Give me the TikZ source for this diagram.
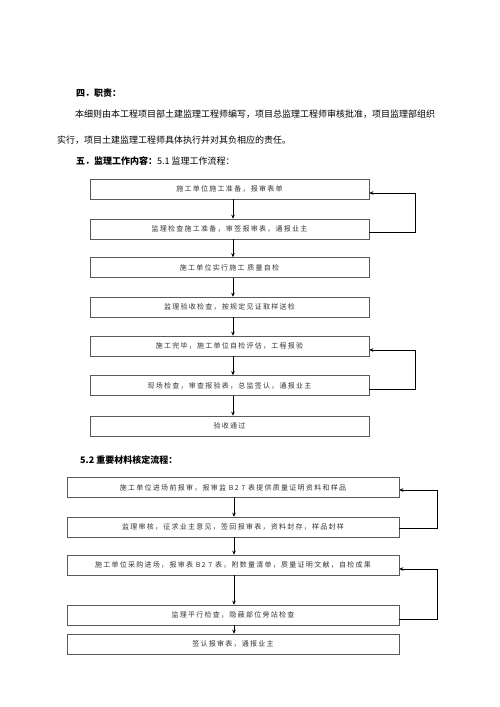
\documentclass[tikz,border=0pt]{standalone}
\usepackage{fontspec}
\setmainfont{Noto Sans CJK SC}
\newfontfamily\boxfont[LetterSpace=18]{Noto Sans CJK SC}
\usetikzlibrary{arrows.meta,calc}
\begin{document}
\begin{tikzpicture}[x=1pt,y=-1pt,
  bodytext/.style={anchor=west,inner sep=0pt,font=\fontsize{9}{11}\selectfont},
  headtext/.style={anchor=west,inner sep=0pt,font=\fontsize{9}{11}\selectfont\bfseries},
  flowbox/.style={draw=black!65,line width=0.6pt,rectangle,inner sep=0pt,
     font=\boxfont\fontsize{7}{8}\selectfont,text=black!80},
  flowarrow/.style={draw=black,line width=0.6pt,-{Stealth[length=4pt,width=3.6pt]}},
  loopline/.style={draw=black,line width=0.6pt},
]
\useasboundingbox (0,0) rectangle (500,707);
\fill[white] (0,0) rectangle (500,707);

\node[headtext] (t1) at (76,93) {四．职责：};
\node[bodytext] (p1) at (75,114) {本细则由本工程项目部土建监理工程师编写，项目总监理工程师审核批准，项目监理部组织};
\node[bodytext] (p2) at (57,140) {实行，项目土建监理工程师具体执行并对其负相应的责任。};
\node[bodytext] (t2) at (76,161) {\textbf{五．监理工作内容：}5.1 监理工作流程：};

% Flow 1
\tikzset{f1/.style={flowbox,minimum width=279pt,minimum height=20pt}}
\node[f1] (a1) at (229.5,189) {\raisebox{-4pt}{施工单位施工准备，报审表单}};
\node[f1] (a2) at (229.5,229) {\raisebox{-3pt}{监理检查施工准备，审签报审表，通报业主}};
\node[f1] (a3) at (229.5,267.5) {\raisebox{-3pt}{施工单位实行施工\ 质量自检}};
\node[f1] (a4) at (229.5,307) {\raisebox{-3pt}{监理验收检查，按规定见证取样送检}};
\node[f1] (a5) at (229.5,346) {\raisebox{-3pt}{施工完毕，施工单位自检评估，工程报验}};
\node[f1] (a6) at (229.5,385.5) {\raisebox{-4pt}{现场检查，审查报验表，总监签认，通报业主}};
\node[f1] (a7) at (229.5,426) {\raisebox{-4pt}{验收通过}};

\foreach \u/\v in {a1/a2,a2/a3,a3/a4,a4/a5,a5/a6,a6/a7}
  \draw[flowarrow] ([xshift=3.5pt]\u.south) -- ([xshift=3.5pt]\v.north);

\coordinate (a2o) at ([yshift=-3pt]a2.east);
\coordinate (a1i) at ([yshift=-4pt]a1.east);
\coordinate (a6o) at ([yshift=-3.5pt]a6.east);
\coordinate (a5i) at ([yshift=-4pt]a5.east);
\coordinate (la) at (415,0);
\draw[flowarrow] (a2o) -- (la |- a2o) -- (la |- a1i) -- (a1i);
\draw[flowarrow] (a6o) -- (la |- a6o) -- (la |- a5i) -- (a5i);

% Flow 2
\node[headtext] (t3) at (80,460) {5.2 重要材料核定流程：};
\tikzset{f2/.style={flowbox,minimum width=332pt,minimum height=20pt}}
\node[f2] (b1) at (233,487.5) {\raisebox{-3pt}{施工单位进场前报审，报审监 B2 7 表提供质量证明资料和样品}};
\node[f2] (b2) at (233,527) {\raisebox{-3pt}{监理审核，征求业主意见，签回报审表，资料封存，样品封样}};
\node[f2] (b3) at (233,565) {\raisebox{-3pt}{施工单位采购进场，报审表 B2 7 表，附数量清单，质量证明文献，自检成果}};
\node[f2] (b4) at (233,615) {\raisebox{-4pt}{监理平行检查，隐蔽部位旁站检查}};
\node[f2] (b5) at (233,644) {\raisebox{-4pt}{签认报审表，通报业主}};

\foreach \u/\v in {b1/b2,b2/b3,b3/b4,b4/b5}
  \draw[flowarrow] ([xshift=1pt]\u.south) -- ([xshift=1pt]\v.north);

\coordinate (b2o) at ([yshift=-1pt]b2.east);
\coordinate (b1i) at ([yshift=-2.5pt]b1.east);
\coordinate (b4o) at ([yshift=-4pt]b4.east);
\coordinate (b3i) at ([yshift=-4pt]b3.east);
\coordinate (lb) at (437,0);
\draw[flowarrow] (b2o) -- (lb |- b2o) -- (lb |- b1i) -- (b1i);
\draw[flowarrow] (b4o) -- (lb |- b4o) -- (lb |- b3i) -- (b3i);
\end{tikzpicture}
\end{document}
